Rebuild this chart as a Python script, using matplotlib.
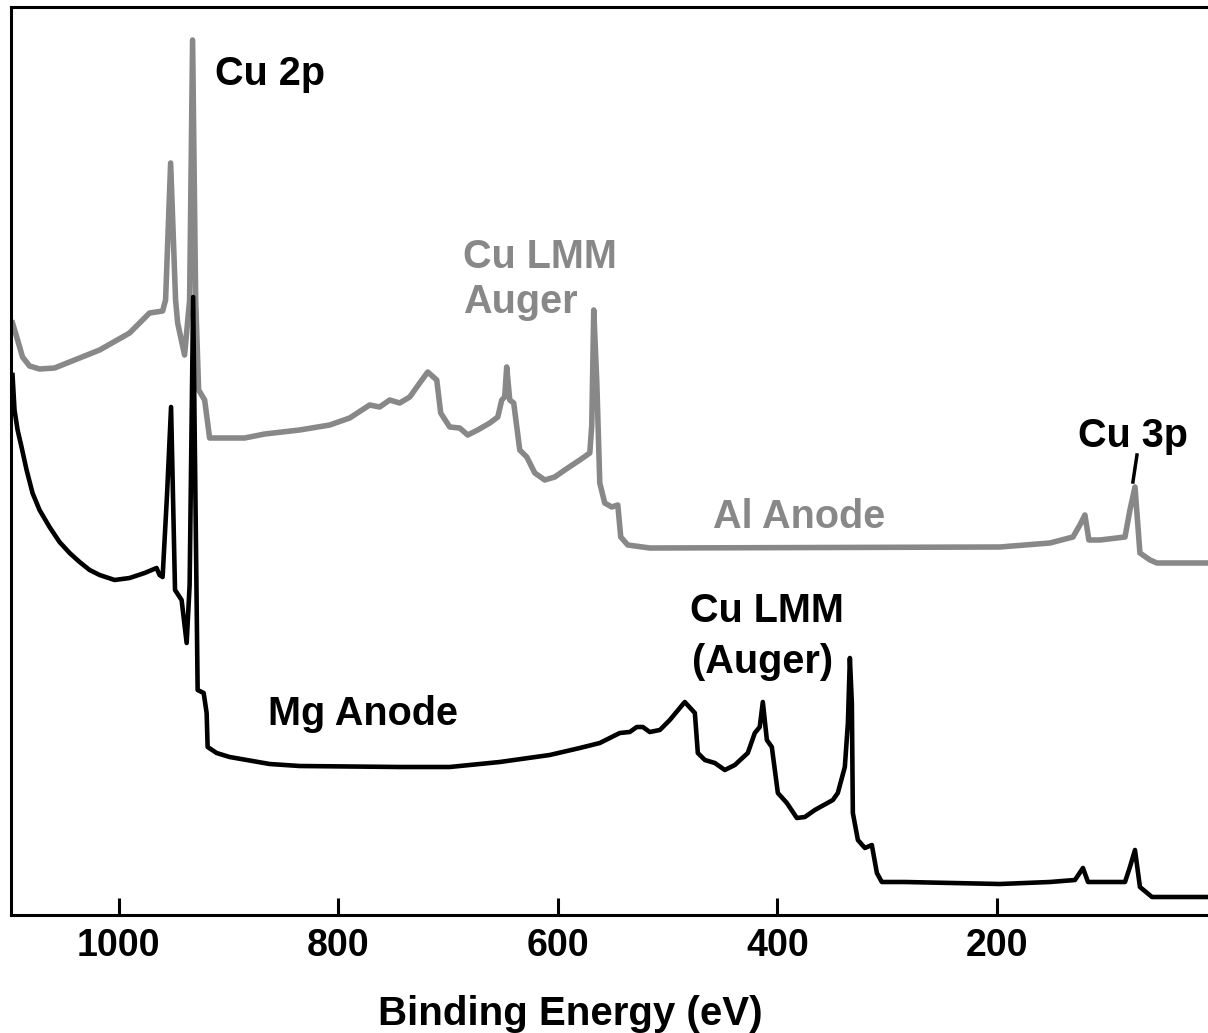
import matplotlib.pyplot as plt

# Binding energy (eV) and intensity (arb. units)
al_energy = [1096.6, 1092.0, 1087.5, 1081.1, 1072.0, 1058.3, 1040.1, 1017.3, 990.0, 971.8,
             959.9, 957.2, 952.6, 948.1, 946.2, 939.9, 935.3, 932.6, 929.8, 927.1,
             921.6, 917.1, 885.2, 866.9, 835.1, 807.7, 789.5, 771.3, 762.2, 753.1,
             744.0, 734.8, 725.7, 718.4, 710.2, 706.6, 698.4, 689.3, 682.0, 672.9,
             661.9, 654.6, 651.0, 648.3, 646.5, 643.7, 640.1, 634.6, 628.2, 620.9,
             611.8, 602.7, 593.6, 579.9, 570.8, 569.0, 567.2, 564.4, 561.7, 557.2,
             550.8, 545.3, 542.6, 536.2, 516.2, 197.2, 151.7, 130.7, 124.4, 119.8,
             116.2, 106.1, 83.3, 78.8, 74.2, 69.7, 60.5, 54.2, 7.7]
al_counts = [592, 575, 558, 549, 546, 547, 555, 565, 582, 602,
             604, 615, 752, 615, 592, 560, 615, 875, 615, 525,
             515, 477, 477, 481, 485, 490, 497, 510, 508, 515,
             512, 518, 532, 543, 535, 502, 488, 487, 480, 485,
             492, 498, 515, 518, 548, 515, 512, 465, 458, 442,
             435, 438, 445, 455, 462, 490, 605, 532, 432, 412,
             408, 410, 378, 370, 367, 368, 372, 378, 390, 400,
             375, 375, 378, 405, 428, 362, 355, 352, 352]

mg_energy = [1096.6, 1094.8, 1092.0, 1088.4, 1083.8, 1078.4, 1072.0, 1062.9, 1053.8, 1044.6,
             1035.5, 1026.4, 1017.3, 1003.6, 990.0, 976.3, 965.4, 962.7, 959.9, 955.9,
             952.2, 948.6, 942.6, 938.0, 935.3, 932.1, 928.0, 922.5, 919.8, 918.9,
             910.7, 898.9, 862.4, 835.1, 743.9, 698.4, 652.8, 607.3, 579.9, 561.7,
             543.5, 534.4, 528.0, 522.5, 516.2, 507.0, 497.9, 484.3, 475.1, 472.4,
             466.0, 456.9, 447.8, 438.7, 426.9, 420.5, 416.0, 413.2, 409.5, 405.0,
             399.5, 391.3, 382.2, 374.9, 365.8, 349.4, 344.9, 338.5, 335.7, 333.9,
             332.1, 331.2, 326.6, 320.2, 313.9, 309.3, 304.8, 283.8, 197.2, 151.7,
             128.9, 121.6, 117.0, 83.3, 78.8, 74.2, 69.7, 58.7, 7.7]
mg_counts = [540, 505, 485, 468, 445, 422, 405, 388, 373, 362,
             353, 345, 340, 335, 337, 342, 347, 340, 338, 420,
             508, 325, 315, 272, 330, 618, 225, 222, 202, 168,
             162, 158, 151, 149, 148, 148, 153, 160, 167, 172,
             182, 183, 188, 188, 183, 185, 195, 213, 202, 162,
             155, 152, 145, 150, 162, 182, 188, 213, 175, 168,
             122, 112, 97, 98, 105, 115, 122, 148, 192, 257,
             212, 102, 75, 67, 70, 42, 33, 33, 31, 33,
             35, 47, 33, 33, 48, 65, 28, 18, 18]

tick_values = [1000, 800, 600, 400, 200]

plt.rcParams['font.family'] = ['Liberation Sans', 'DejaVu Sans']
plt.rcParams['font.weight'] = 'bold'

fig = plt.figure(figsize=(12.08, 10.33), dpi=100)
ax = fig.add_axes([11 / 1208, 118 / 1033, 1 - 11 / 1208, 908 / 1033])

gray = '#888888'
ax.plot(al_energy, al_counts, color=gray, lw=4.0)
ax.plot(mg_energy, mg_counts, color='black', lw=3.3)

# Peak labels
ax.text(912.5, 830, 'Cu 2p', fontsize=28.5, fontweight='bold', color='black')
ax.text(686.5, 647, 'Cu LMM', fontsize=28.5, fontweight='bold', color=gray)
ax.text(686.5, 602, 'Auger', fontsize=28.5, fontweight='bold', color=gray)
ax.text(458.7, 387, 'Al Anode', fontsize=28.5, fontweight='bold', color=gray)
ax.text(126.2, 468, 'Cu 3p', fontsize=28.5, fontweight='bold', color='black')
ax.text(479.7, 293, 'Cu LMM', fontsize=28.5, fontweight='bold', color='black')
ax.text(478.0, 242, '(Auger)', fontsize=28.5, fontweight='bold', color='black')
ax.text(864.2, 190, 'Mg Anode', fontsize=28.5, fontweight='bold', color='black')
ax.plot([72.4, 76.1], [460, 433], color='black', lw=2.5)

ax.set_xlim(1098, 7.7)
ax.set_ylim(0, 908)
ax.set_yticks([])
ax.set_xticks(tick_values)
ax.set_xticklabels([str(t) for t in tick_values], fontsize=27, fontweight='bold')
ax.tick_params(axis='x', direction='in', length=12, width=2.2, pad=9)
ax.set_xlabel('Binding Energy (eV)', fontsize=29, fontweight='bold')
ax.xaxis.set_label_coords(0.467, -0.088)

for side in ['left', 'top', 'bottom']:
    ax.spines[side].set_linewidth(2.2)
ax.spines['right'].set_visible(False)

plt.savefig('out.png', dpi=100)
